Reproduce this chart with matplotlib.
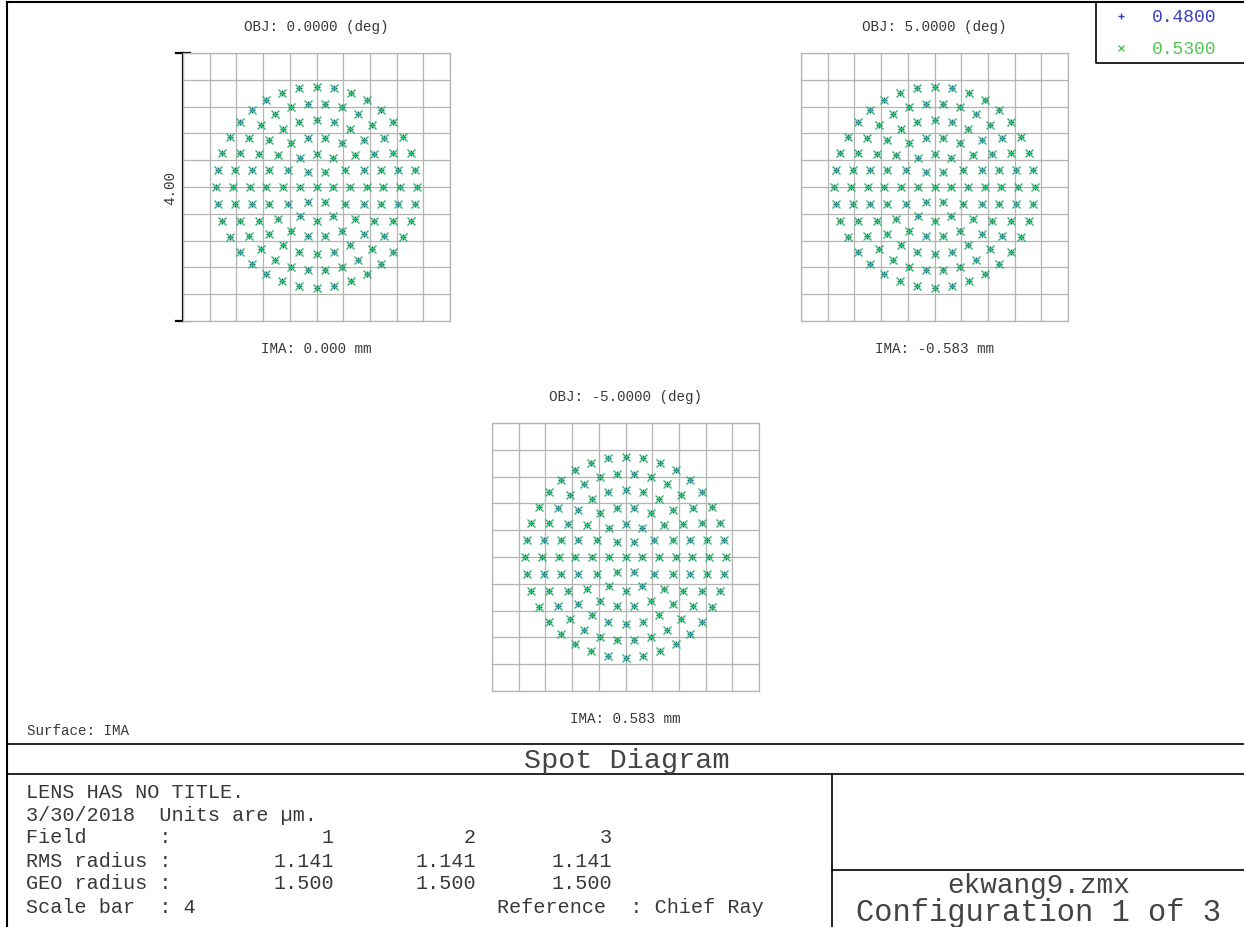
import numpy as np
import matplotlib
matplotlib.use('Agg')
import matplotlib.pyplot as plt

plt.rcParams['font.family'] = ['Liberation Mono', 'DejaVu Sans Mono']

# spot diagram data (hexapolar ray pattern, same for every field)
field_deg = [0.0, 5.0, -5.0]
ima_mm = [0.000, -0.583, 0.583]
wavelengths = [0.4800, 0.5300]
wave_colors = ['#24509a', '#2dbb6a']
legend_colors = ['#3c3cc8', '#55c455']
wave_markers = ['+', 'x']
wave_sizes = [4.5, 5.5]
ring_radii = [0.0, 0.25, 0.5, 0.75, 1.0, 1.25, 1.5]  # um
ring_counts = [1, 6, 12, 18, 24, 30, 36]
rms_radius = [1.141, 1.141, 1.141]
geo_radius = [1.500, 1.500, 1.500]
scale_bar = 4

W, H = 1244, 928
TXT = '#383838'

fig = plt.figure(figsize=(W / 100, H / 100), dpi=100)
bg = fig.add_axes([0, 0, 1, 1])
bg.set_xlim(0, W)
bg.set_ylim(H, 0)
bg.axis('off')


def ray_points():
    xs, ys = [], []
    for r, n in zip(ring_radii, ring_counts):
        for j in range(n):
            a = 2 * np.pi * j / n
            xs.append(r * np.cos(a))
            ys.append(r * np.sin(a))
    return np.array(xs), np.array(ys)


px, py = ray_points()

# box (left, top) in pixels
boxes = [(183, 54), (801, 54), (492, 424)]
bw, bh = 267, 268
half = scale_bar / 2

for i, (x0, y0) in enumerate(boxes):
    ax = fig.add_axes([x0 / W, 1 - (y0 + bh) / H, bw / W, bh / H])
    ax.set_xlim(-half, half)
    ax.set_ylim(-half, half)
    ticks = np.linspace(-half, half, 11)
    ax.set_xticks(ticks)
    ax.set_yticks(ticks)
    ax.tick_params(length=0, labelbottom=False, labelleft=False)
    ax.grid(True, color='#b4b4b4', lw=0.9)
    for s in ax.spines.values():
        s.set_color('#b4b4b4')
        s.set_linewidth(0.9)
    for c, m, ms in zip(wave_colors, wave_markers, wave_sizes):
        ax.plot(px, py, ls='none', marker=m, color=c, ms=ms, mew=1.0)
    cx = x0 + bw / 2
    bg.text(cx, y0 - 27, 'OBJ: %.4f (deg)' % field_deg[i], ha='center', va='center',
            fontsize=10.3, color=TXT)
    bg.text(cx, y0 + bh + 27, 'IMA: %.3f mm' % ima_mm[i], ha='center', va='center',
            fontsize=10.3, color=TXT)

# scale bar on first box
x0, y0 = boxes[0]
bg.plot([x0, x0], [y0, y0 + bh], color='black', lw=1.6)
bg.plot([x0 - 7, x0 + 7], [y0, y0], color='black', lw=1.6)
bg.plot([x0 - 7, x0 + 7], [y0 + bh, y0 + bh], color='black', lw=1.6)
bg.text(x0 - 13, y0 + bh / 2, '%.2f' % scale_bar, rotation=90, ha='center', va='center',
        fontsize=10.3, color=TXT)

# legend
bg.plot([1096, 1096, W], [3, 64, 64], color='black', lw=1.2)
for k, (w, c, m) in enumerate(zip(wavelengths, legend_colors, wave_markers)):
    yy = 17 + k * 32
    bg.plot([1121], [yy], ls='none', marker=m, color=c, ms=4, mew=1.0)
    bg.text(1152, yy, '%.4f' % w, ha='left', va='center', fontsize=13, color=c)

# frame lines
bg.plot([7, 7], [3, H], color='black', lw=1.5)
bg.plot([7, W], [3, 3], color='black', lw=1.5)
bg.plot([7, W], [745, 745], color='black', lw=1.2)
bg.plot([7, W], [775, 775], color='black', lw=1.2)
bg.plot([832, 832], [775, H], color='black', lw=1.2)
bg.plot([832, W], [871, 871], color='black', lw=1.2)

bg.text(27, 731, 'Surface: IMA', ha='left', va='center', fontsize=10.3, color=TXT)
bg.text(627, 761, 'Spot Diagram', ha='center', va='center', fontsize=20.5, color='#444444')
bg.text(1039, 886, 'ekwang9.zmx', ha='center', va='center', fontsize=20, color='#444444')
bg.text(1039, 913, 'Configuration 1 of 3', ha='center', va='center', fontsize=22,
        color='#444444')

# info table
rows_y = [793, 816, 838, 862, 884, 908]
col_x = [334, 476, 612]
fs = 14.5
bg.text(26, rows_y[0], 'LENS HAS NO TITLE.', ha='left', va='center', fontsize=fs, color=TXT)
bg.text(26, rows_y[1], '3/30/2018  Units are \u00b5m.', ha='left', va='center', fontsize=fs,
        color=TXT)
labels = ['Field      :', 'RMS radius :', 'GEO radius :']
values = [['%d' % (n + 1) for n in range(3)],
          ['%.3f' % v for v in rms_radius],
          ['%.3f' % v for v in geo_radius]]
for r, (lab, vals) in enumerate(zip(labels, values)):
    yy = rows_y[2 + r]
    bg.text(26, yy, lab, ha='left', va='center', fontsize=fs, color=TXT)
    for xx, v in zip(col_x, vals):
        bg.text(xx, yy, v, ha='right', va='center', fontsize=fs, color=TXT)
bg.text(26, rows_y[5], 'Scale bar  : %d' % scale_bar, ha='left', va='center', fontsize=fs,
        color=TXT)
bg.text(497, rows_y[5], 'Reference  : Chief Ray', ha='left', va='center', fontsize=fs,
        color=TXT)

fig.savefig('out.png', dpi=100)
